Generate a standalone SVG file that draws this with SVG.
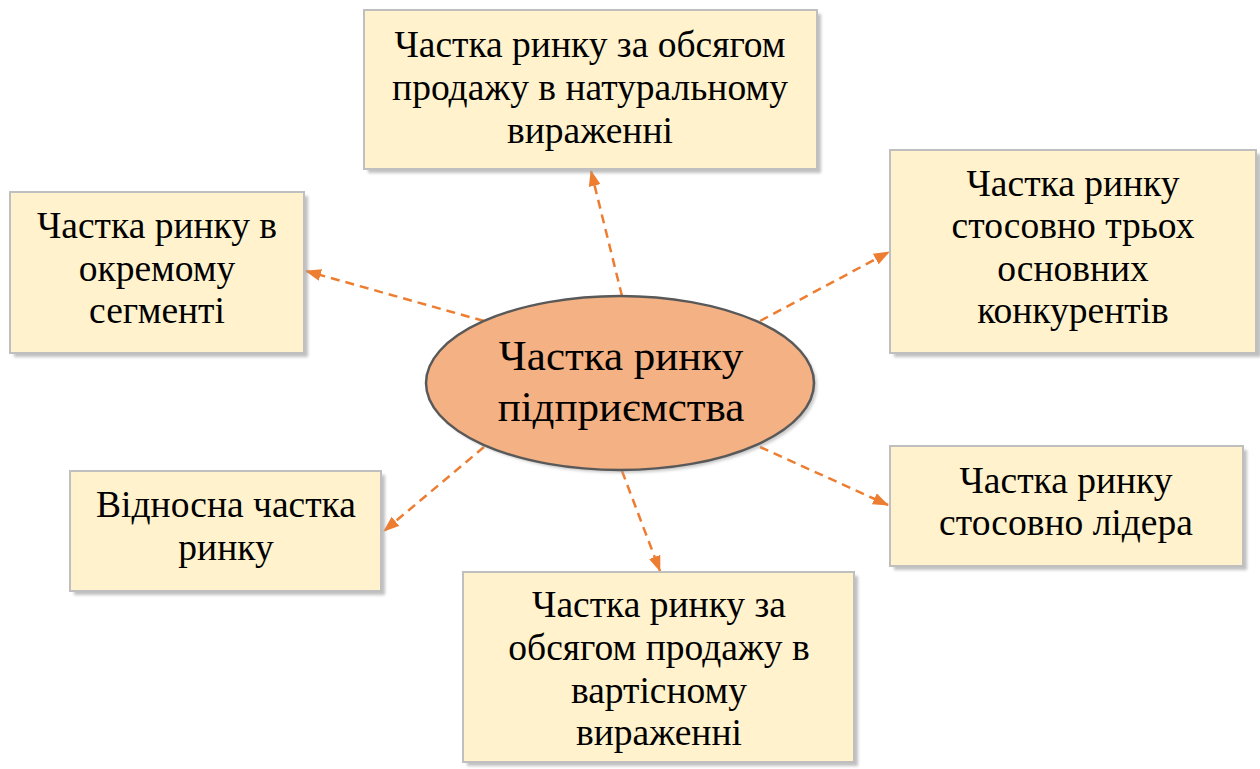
<svg xmlns="http://www.w3.org/2000/svg" width="1260" height="769" viewBox="0 0 1260 769">
<defs>
<style>
.box{fill:#FFF2CC;stroke:#BFBFBF;stroke-width:2}
.sh{fill:#A6A6A6;opacity:0.7}
.t{font-family:"Liberation Serif","Times New Roman",serif;font-size:37.5px;fill:#000;text-anchor:middle}
.tc{font-family:"Liberation Serif","Times New Roman",serif;font-size:43px;fill:#000;text-anchor:middle}
.c{stroke:#ED7D31;stroke-width:2.5;stroke-dasharray:9 6;fill:none;marker-end:url(#ah)}
</style>
<marker id="ah" viewBox="0 0 16 12" refX="15" refY="6" markerWidth="16" markerHeight="12" markerUnits="userSpaceOnUse" orient="auto">
<path d="M0,0 L16,6 L0,12 z" fill="#ED7D31"/>
</marker>
<filter id="ds" x="-5%" y="-5%" width="115%" height="120%">
<feGaussianBlur stdDeviation="1.5"/>
</filter>
</defs>
<g id="connectors">
<line class="c" x1="622" y1="296" x2="591" y2="171"/>
<line class="c" x1="484" y1="321" x2="306" y2="271"/>
<line class="c" x1="760" y1="321" x2="889" y2="252"/>
<line class="c" x1="760" y1="447" x2="888" y2="505"/>
<line class="c" x1="484" y1="447" x2="384" y2="531"/>
<line class="c" x1="622" y1="471" x2="660" y2="571"/>
</g>
<g id="n-top">
<rect class="sh" x="368" y="14" width="453" height="159" filter="url(#ds)"/>
<rect class="box" x="364" y="10" width="453" height="159"/>
<text class="t" x="590" y="57">Частка ринку за обсягом</text>
<text class="t" x="590" y="100">продажу в натуральному</text>
<text class="t" x="590" y="143">вираженні</text>
</g>
<g id="n-left">
<rect class="sh" x="14" y="196" width="294" height="161" filter="url(#ds)"/>
<rect class="box" x="10" y="192" width="294" height="161"/>
<text class="t" x="157" y="238">Частка ринку в</text>
<text class="t" x="157" y="281">окремому</text>
<text class="t" x="157" y="323">сегменті</text>
</g>
<g id="n-right-top">
<rect class="sh" x="894" y="154" width="367" height="203" filter="url(#ds)"/>
<rect class="box" x="890" y="150" width="366" height="203"/>
<text class="t" x="1073" y="196">Частка ринку</text>
<text class="t" x="1073" y="238">стосовно трьох</text>
<text class="t" x="1073" y="281">основних</text>
<text class="t" x="1073" y="323">конкурентів</text>
</g>
<g id="n-right-bottom">
<rect class="sh" x="894" y="450" width="353" height="120" filter="url(#ds)"/>
<rect class="box" x="890" y="446" width="353" height="120"/>
<text class="t" x="1066" y="493">Частка ринку</text>
<text class="t" x="1066" y="535">стосовно лідера</text>
</g>
<g id="n-left-bottom">
<rect class="sh" x="74" y="475" width="311" height="120" filter="url(#ds)"/>
<rect class="box" x="70" y="471" width="311" height="120"/>
<text class="t" x="226" y="517">Відносна частка</text>
<text class="t" x="226" y="560">ринку</text>
</g>
<g id="n-bottom">
<rect class="sh" x="467" y="576" width="391" height="190" filter="url(#ds)"/>
<rect class="box" x="463" y="572" width="391" height="190"/>
<text class="t" x="659" y="617">Частка ринку за</text>
<text class="t" x="659" y="660">обсягом продажу в</text>
<text class="t" x="659" y="703">вартісному</text>
<text class="t" x="659" y="745">вираженні</text>
</g>
<g id="n-center">
<ellipse cx="623" cy="386" rx="194" ry="87" fill="#A6A6A6" opacity="0.6" filter="url(#ds)"/>
<ellipse cx="620" cy="383" rx="194" ry="87" fill="#F4B183" stroke="#595959" stroke-width="2.5"/>
<text class="tc" x="621" y="370">Частка ринку</text>
<text class="tc" x="621" y="421">підприємства</text>
</g>
</svg>
